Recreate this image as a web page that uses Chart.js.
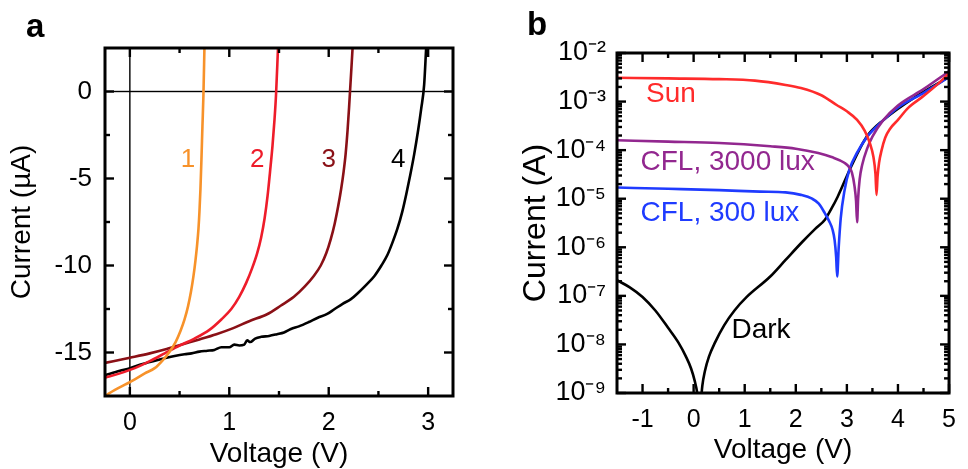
<!DOCTYPE html>
<html><head><meta charset="utf-8">
<script src="https://cdn.jsdelivr.net/npm/chart.js@4.4.1/dist/chart.umd.min.js"></script>
<style>
html,body{margin:0;padding:0;background:#fff;}
#wrap{position:relative;width:968px;height:469px;overflow:hidden;}
canvas{position:absolute;top:0;}
#ca{left:0;} #cb{left:484px;}
svg.frame{position:absolute;top:0;pointer-events:none;}
</style></head><body>
<div id="wrap"><canvas id="ca" width="484" height="469"></canvas><canvas id="cb" width="484" height="469"></canvas></div>
<script>
// ---------- Panel a : I-V curves (V, µA) ----------
const aV1 = [-0.25,-0.15,-0.05,0.05,0.15,0.25,0.33,0.40,0.46,0.51,0.55,0.585,0.615,0.64,0.66,0.675,0.69,0.70,0.71,0.72,0.73,0.74,0.75];
const aI1 = [-17.5,-17.15,-16.85,-16.55,-16.2,-15.9,-15.45,-14.95,-14.4,-13.75,-13.1,-12.35,-11.5,-10.6,-9.7,-8.9,-7.9,-6.9,-5.6,-3.9,-2.0,-0.2,2.5];
const aV2 = [-0.25,-0.1,0.05,0.2,0.35,0.5,0.65,0.8,0.92,1.02,1.1,1.17,1.23,1.28,1.32,1.355,1.385,1.41,1.435,1.455,1.47,1.49];
const aI2 = [-16.45,-16.2,-15.9,-15.5,-15.05,-14.6,-14.2,-13.7,-13.1,-12.5,-11.8,-11.0,-10.15,-9.3,-8.4,-7.3,-6.0,-4.6,-3.1,-1.6,-0.2,2.5];
const aV3 = [-0.25,0,0.2,0.37,0.55,0.7,0.87,1.04,1.2,1.38,1.52,1.65,1.76,1.85,1.92,1.975,2.02,2.06,2.095,2.125,2.15,2.17,2.19,2.205,2.24];
const aI3 = [-15.6,-15.3,-15.05,-14.8,-14.5,-14.25,-13.95,-13.6,-13.2,-12.8,-12.3,-11.8,-11.2,-10.6,-10.0,-9.3,-8.5,-7.6,-6.6,-5.6,-4.6,-3.6,-2.2,-0.9,2.5];
const aV4 = [-0.25,-0.1,0,0.1,0.2,0.3,0.37,0.45,0.55,0.62,0.7,0.78,0.85,0.92,1.0,1.05,1.1,1.15,1.18,1.21,1.26,1.32,1.4,1.48,1.55,1.62,1.7,1.8,1.89,1.98,2.06,2.14,2.22,2.3,2.38,2.46,2.53,2.59,2.64,2.69,2.74,2.78,2.82,2.86,2.9,2.93,2.96,2.98];
const aI4 = [-16.3,-16.05,-15.9,-15.7,-15.55,-15.4,-15.3,-15.2,-15.1,-15.05,-14.95,-14.9,-14.85,-14.7,-14.7,-14.55,-14.6,-14.55,-14.3,-14.4,-14.2,-14.1,-14.05,-13.95,-13.85,-13.65,-13.5,-13.25,-13.0,-12.8,-12.5,-12.2,-11.95,-11.55,-11.1,-10.6,-10.0,-9.4,-8.7,-7.9,-6.9,-5.9,-4.8,-3.6,-2.2,-1.0,0.4,2.5];
const aXRange = [-0.25, 3.25];
const aYRange = [-17.5, 2.5];
const aXTicks = [0,1,2,3];
const aXTickLabels = ['0','1','2','3'];
const aYTicks = [0,-5,-10,-15];
const aYTickLabels = ['0','-5','-10','-15'];
const aXMinor = [0.5,1.5,2.5];
const aYMinor = [-2.5,-7.5,-12.5];
const aCurveLabels = ['1','2','3','4'];
const aCurveLabelV = [0.585,1.28,2.0,2.7];
const aCurveLabelI = [-3.9,-3.9,-3.9,-3.9];

// ---------- Panel b : |I| vs V on log axis (V, A) ----------
const bVSun = [-1.5,-0.5,0.5,1.2,1.8,2.1,2.5,2.8,3.0,3.2,3.35,3.45,3.52,3.56,3.58,3.60,3.63,3.68,3.75,3.85,4.0,4.2,4.5,4.8,5.0];
const bISun = [3.1e-3,3.0e-3,2.9e-3,2.7e-3,2.2e-3,1.9e-3,1.35e-3,8.5e-4,6.3e-4,4.2e-4,2.5e-4,1.4e-4,7.2e-5,3.2e-5,1.2e-5,2.8e-5,5.5e-5,1.0e-4,1.8e-4,2.8e-4,4.2e-4,7.4e-4,1.3e-3,2.4e-3,3.8e-3];
const bV3000 = [-1.5,-0.5,0.5,1.5,2.0,2.44,2.7,2.95,3.05,3.1,3.15,3.18,3.2,3.22,3.25,3.3,3.4,3.5,3.7,4.0,4.5,5.0];
const bI3000 = [1.6e-4,1.5e-4,1.4e-4,1.2e-4,1.07e-4,8.7e-5,7.2e-5,5.5e-5,4.4e-5,3.4e-5,1.8e-5,8.9e-6,3.3e-6,1.0e-5,2.5e-5,5.0e-5,1.1e-4,1.9e-4,4.0e-4,8.3e-4,1.8e-3,4.2e-3];
const bV300 = [-1.5,-0.5,0.5,1.3,1.8,2.1,2.32,2.45,2.57,2.65,2.72,2.76,2.79,2.81,2.84,2.88,2.95,3.05,3.2,3.4,3.7,4.0,4.5,5.0];
const bI300 = [1.7e-5,1.6e-5,1.5e-5,1.4e-5,1.35e-5,1.2e-5,1.0e-5,7.9e-6,5.0e-6,3.5e-6,2.3e-6,1.4e-6,6.3e-7,2.5e-7,1.0e-6,4.0e-6,1.4e-5,4.0e-5,8.9e-5,1.9e-4,4.0e-4,7.6e-4,1.5e-3,3.2e-3];
const bVDark = [-1.5,-1.25,-1.0,-0.75,-0.5,-0.3,-0.15,-0.05,0.02,0.07,0.1,0.12,0.14,0.17,0.22,0.3,0.42,0.6,0.8,1.04,1.5,1.8,2.13,2.38,2.57,2.7,2.82,3.08,3.39,3.72,4.35,5.0];
const bIDark = [2.1e-7,1.5e-7,9.5e-8,5.0e-8,2.2e-8,1.1e-8,5.6e-9,3.2e-9,1.8e-9,1.0e-9,5e-10,3e-10,6e-10,1.4e-9,2.8e-9,5.6e-9,1.1e-8,2.5e-8,5.0e-8,9.5e-8,2.5e-7,5.5e-7,1.3e-6,2.4e-6,3.7e-6,6.3e-6,1.1e-5,4.5e-5,1.9e-4,4.2e-4,1.26e-3,3.2e-3];
const bXRange = [-1.5, 5];
const bYRange = [1e-9, 1e-2];
const bXTicks = [-1,0,1,2,3,4,5];
const bXTickLabels = ['-1','0','1','2','3','4','5'];
const bYTicks = [1e-9,1e-8,1e-7,1e-6,1e-5,1e-4,1e-3,1e-2];
const bYTickLabels = ['10\u207B\u2079','10\u207B\u2078','10\u207B\u2077','10\u207B\u2076','10\u207B\u2075','10\u207B\u2074','10\u207B\u00B3','10\u207B\u00B2'];
const bXMinor = [-0.5,0.5,1.5,2.5,3.5,4.5];
const bYMinorMant = [2,3,4,5,6,7,8,9];
const bSeriesNames = ['Sun','CFL, 3000 lux','CFL, 300 lux','Dark'];
const bLabelV = [-0.93,-1.04,-1.04,0.74];
const bLabelI = [1.4e-3,5.5e-5,5.1e-6,2.0e-8];

const FONT = "'Liberation Sans', Arial, Helvetica, sans-serif";
Chart.defaults.font.family = FONT;
Chart.defaults.color = '#000';
const SVGNS = 'http://www.w3.org/2000/svg';

function pts(xs, ys) { return xs.map((x, i) => ({x: x, y: ys[i]})); }
function line(xs, ys, color) {
  return {data: pts(xs, ys), showLine: true, borderColor: color, backgroundColor: color,
          borderWidth: 2.6, pointRadius: 0, cubicInterpolationMode: 'monotone', fill: false};
}

// frame + inward ticks, positioned from the chart's own scales
function frameOverlay(chart, leftPx, cfg) {
  const ca = chart.chartArea, x = chart.scales.x, y = chart.scales.y;
  const svg = document.createElementNS(SVGNS, 'svg');
  svg.setAttribute('class', 'frame');
  svg.setAttribute('width', chart.width); svg.setAttribute('height', chart.height);
  svg.style.left = leftPx + 'px';
  const add = (x1, y1, x2, y2, w) => {
    const l = document.createElementNS(SVGNS, 'line');
    l.setAttribute('x1', x1); l.setAttribute('y1', y1); l.setAttribute('x2', x2); l.setAttribute('y2', y2);
    l.setAttribute('stroke', '#000'); l.setAttribute('stroke-width', w);
    svg.appendChild(l);
  };
  const xt = (v, len) => { const p = x.getPixelForValue(v);
    add(p, ca.bottom, p, ca.bottom - len, 2.4); add(p, ca.top, p, ca.top + len, 2.4); };
  const yt = (v, len) => { const p = y.getPixelForValue(v);
    add(ca.left, p, ca.left + len, p, 2.4); add(ca.right, p, ca.right - len, p, 2.4); };
  cfg.xMajor.forEach(v => xt(v, 9)); cfg.xMinor.forEach(v => xt(v, 5));
  cfg.yMajor.forEach(v => yt(v, 9)); cfg.yMinor.forEach(v => yt(v, 5));
  const r = document.createElementNS(SVGNS, 'rect');
  r.setAttribute('x', ca.left); r.setAttribute('y', ca.top);
  r.setAttribute('width', ca.right - ca.left); r.setAttribute('height', ca.bottom - ca.top);
  r.setAttribute('fill', 'none'); r.setAttribute('stroke', '#000'); r.setAttribute('stroke-width', 3);
  svg.appendChild(r);
  document.getElementById('wrap').appendChild(svg);
}

function decorPlugin(cfg) {
  return {
    id: 'decor',
    beforeDatasetsDraw(chart) {
      if (!cfg.zeroLines) return;
      const ctx = chart.ctx, ca = chart.chartArea;
      const px = chart.scales.x.getPixelForValue(0), py = chart.scales.y.getPixelForValue(0);
      ctx.save();
      ctx.fillStyle = '#000';
      ctx.fillRect(px - 0.7, ca.top, 1.4, ca.bottom - ca.top);
      ctx.fillRect(ca.left, py - 0.7, ca.right - ca.left, 1.4);
      ctx.restore();
    },
    afterDraw(chart) {
      const ctx = chart.ctx, x = chart.scales.x, y = chart.scales.y;
      ctx.save();
      ctx.fillStyle = '#000';
      ctx.font = 'bold 33px ' + FONT;
      ctx.textBaseline = 'alphabetic'; ctx.textAlign = 'left';
      ctx.fillText(cfg.letter, cfg.letterX, cfg.letterY);
      ctx.font = cfg.labelFont;
      ctx.textBaseline = 'middle';
      ctx.textAlign = cfg.labelAlign;
      cfg.labels.forEach((t, i) => {
        ctx.fillStyle = cfg.labelColors[i];
        ctx.fillText(t, x.getPixelForValue(cfg.labelX[i]), y.getPixelForValue(cfg.labelY[i]));
      });
      ctx.restore();
    }
  };
}

// ---------- Chart a ----------
const aColors = ['#f7922a', '#ee1c2a', '#8a1016', '#000000'];
const chartA = new Chart(document.getElementById('ca'), {
  type: 'scatter',
  data: {datasets: [line(aV1, aI1, aColors[0]), line(aV2, aI2, aColors[1]), line(aV3, aI3, aColors[2]), line(aV4, aI4, aColors[3])]},
  options: {
    responsive: false, animation: false, events: [],
    layout: {padding: {left: 0, top: 48, right: 31, bottom: 0}},
    plugins: {legend: {display: false}, tooltip: {enabled: false}},
    scales: {
      x: {type: 'linear', min: aXRange[0], max: aXRange[1],
          afterBuildTicks: s => { s.ticks = aXTicks.map(v => ({value: v})); },
          afterFit: s => { s.height = 73; },
          ticks: {callback: (v, i) => aXTickLabels[i], font: {size: 25}, color: '#000', padding: 12, maxRotation: 0, autoSkip: false},
          grid: {display: false, drawTicks: false}, border: {display: false},
          title: {display: true, text: 'Voltage (V)', font: {size: 28}, color: '#000', padding: {top: 0, bottom: -2}}},
      y: {type: 'linear', min: aYRange[0], max: aYRange[1],
          afterBuildTicks: s => { s.ticks = aYTicks.map(v => ({value: v})); },
          afterFit: s => { s.width = 105; },
          ticks: {callback: (v, i) => aYTickLabels[i], font: {size: 26}, color: '#000', padding: 13, autoSkip: false},
          grid: {display: false, drawTicks: false}, border: {display: false},
          title: {display: true, text: 'Current (\u00B5A)', font: {size: 28}, color: '#000', padding: {top: 5, bottom: 0}}}
    }
  },
  plugins: [decorPlugin({zeroLines: true, letter: 'a', letterX: 26, letterY: 37, labels: aCurveLabels, labelX: aCurveLabelV, labelY: aCurveLabelI,
    labelColors: aColors, labelFont: '26px ' + FONT, labelAlign: 'center'})]
});
frameOverlay(chartA, 0, {xMajor: aXTicks, xMinor: aXMinor, yMajor: aYTicks, yMinor: aYMinor});

// ---------- Chart b ----------
const bColors = ['#ff2b2b', '#92278f', '#1f3bff', '#000000'];
const bYMinor = [];
bYTicks.slice(0, -1).forEach(d => bYMinorMant.forEach(m => bYMinor.push(d * m)));
const chartB = new Chart(document.getElementById('cb'), {
  type: 'scatter',
  data: {datasets: [line(bVSun, bISun, bColors[0]), line(bV3000, bI3000, bColors[1]), line(bV300, bI300, bColors[2]), line(bVDark, bIDark, bColors[3])]},
  options: {
    responsive: false, animation: false, events: [],
    layout: {padding: {left: 0, top: 53, right: 11, bottom: 0}},
    plugins: {legend: {display: false}, tooltip: {enabled: false}},
    scales: {
      x: {type: 'linear', min: bXRange[0], max: bXRange[1],
          afterBuildTicks: s => { s.ticks = bXTicks.map(v => ({value: v})); },
          afterFit: s => { s.height = 76; },
          ticks: {callback: (v, i) => bXTickLabels[i], font: {size: 25}, color: '#000', padding: 12, maxRotation: 0, autoSkip: false},
          grid: {display: false, drawTicks: false}, border: {display: false},
          title: {display: true, text: 'Voltage (V)', font: {size: 28}, color: '#000', padding: {top: 0, bottom: 2}}},
      y: {type: 'logarithmic', min: bYRange[0], max: bYRange[1],
          afterBuildTicks: s => { s.ticks = bYTicks.map(v => ({value: v})); },
          afterFit: s => { s.width = 133; },
          ticks: {callback: (v, i) => bYTickLabels[i], font: {size: 27}, color: '#000', padding: 11, autoSkip: false},
          grid: {display: false, drawTicks: false}, border: {display: false},
          title: {display: true, text: 'Current (A)', font: {size: 32}, color: '#000', padding: {top: 33, bottom: 0}}}
    }
  },
  plugins: [decorPlugin({zeroLines: false, letter: 'b', letterX: 43, letterY: 35, labels: bSeriesNames, labelX: bLabelV, labelY: bLabelI,
    labelColors: bColors, labelFont: '28px ' + FONT, labelAlign: 'left'})]
});
frameOverlay(chartB, 484, {xMajor: bXTicks, xMinor: bXMinor, yMajor: bYTicks, yMinor: bYMinor});
</script>
</body></html>
